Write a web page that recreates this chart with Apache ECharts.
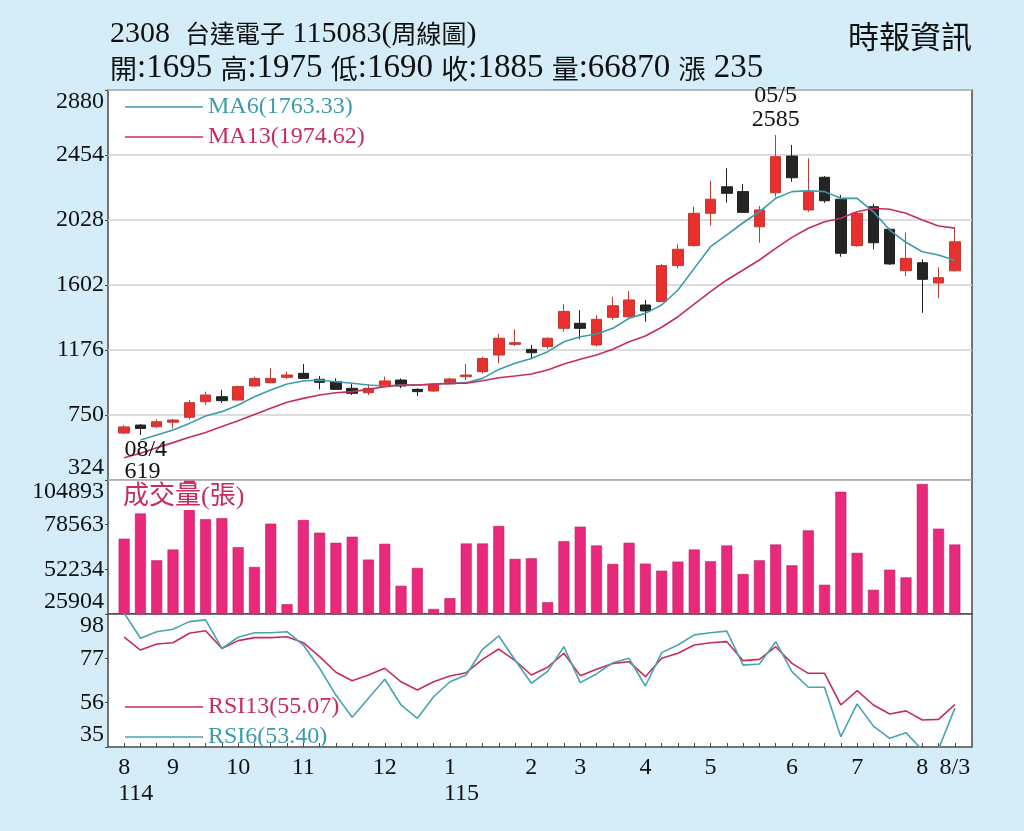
<!DOCTYPE html>
<html>
<head>
<meta charset="utf-8">
<script src="https://cdn.jsdelivr.net/npm/echarts@6/dist/echarts.min.js"></script>
<style>
html,body{margin:0;padding:0;background:#d5ecf9;}
#c{width:1024px;height:831px;}
</style>
</head>
<body>
<div id="c"></div>
<script>
// ---- data (weekly, 52 weeks) ----
const xLabels = ['8\n114','','','9','','','','10','','','','11','','','','','12','','','','1\n115','','','','','2','','','3','','','','4','','','','5','','','','','6','','','','7','','','','8','','8/3'];
const open  = [632,684,673,703,735,837,870,848,940,962,997,1023,984,968,925,896,936,979,918,907,953,1001,1034,1143,1213,1180,1198,1318,1351,1209,1390,1394,1471,1493,1729,1860,2072,2246,2214,1984,2207,2447,2094,2308,2164,1860,2115,1967,1696,1748,1615,1695];
const close = [672,662,706,717,831,881,844,936,990,990,1012,990,964,918,892,925,973,940,903,953,986,1012,1121,1253,1224,1158,1253,1429,1318,1377,1466,1504,1432,1729,1836,2072,2164,2203,2078,2094,2443,2305,2214,2154,1810,2072,1879,1740,1777,1639,1650,1885];
const high  = [684,690,722,724,848,903,914,942,1001,1056,1034,1084,1006,990,953,953,1001,990,925,958,995,1084,1132,1281,1312,1209,1260,1477,1438,1405,1525,1563,1504,1740,1869,2115,2284,2367,2264,2120,2585,2520,2432,2316,2192,2080,2133,1975,1945,1770,1718,1975];
const low   = [625,619,665,662,720,816,831,845,936,958,986,986,918,914,881,881,933,925,874,903,950,979,1023,1089,1202,1115,1185,1296,1246,1198,1373,1384,1361,1490,1711,1855,1991,2141,2075,1879,2181,2279,2082,2141,1787,1853,1836,1733,1661,1420,1515,1690];
const ma6   = ['-',586,619,652,695,743,772,816,870,914,953,973,979,968,958,947,940,947,947,953,958,962,990,1049,1089,1121,1165,1230,1263,1281,1318,1384,1416,1471,1569,1711,1853,1930,2010,2082,2170,2214,2220,2214,2170,2170,2082,1962,1882,1820,1799,1763.33];
const ma13  = [470,499,536,569,604,636,674,713,754,794,833,859,881,896,903,918,935,947,947,951,958,958,975,994,1006,1019,1045,1084,1115,1143,1181,1230,1268,1325,1394,1477,1558,1635,1700,1766,1842,1914,1974,2017,2039,2082,2105,2098,2072,2028,1989,1974.62];
const volume = [70270,85114,57560,63914,104500,81731,82325,65280,53639,79177,31665,81315,73832,67893,71456,57975,67299,42533,53045,28874,35228,67477,67477,77752,58390,58747,32853,68843,77395,66289,55421,67893,55599,51442,56787,63914,56965,66289,49482,57560,66883,54589,75198,43127,97945,61954,40158,52036,47463,102517,76207,66870];
const rsi13 = [87.0,80.9,83.8,84.4,88.9,90.1,81.7,85.4,86.8,86.8,87.2,84.4,77.8,70.4,66.4,69.1,72.3,65.9,62.0,65.9,68.6,70.2,76.5,81.4,75.9,69.1,72.8,79.4,68.8,71.8,74.6,75.4,68.3,77.0,79.4,83.3,84.4,84.9,75.9,76.5,82.5,74.6,69.9,69.9,54.9,61.7,54.9,50.6,52.1,47.8,48.1,55.07];
const rsi6  = [98.5,86.5,89.6,90.8,94.4,95.2,81.7,87.0,89.1,89.1,89.6,83.3,72.3,59.6,49.1,58.1,67.1,54.9,48.6,58.8,65.9,69.1,81.3,87.6,76.2,65.2,70.8,82.5,65.5,69.6,74.9,77.0,63.9,79.7,83.3,88.1,89.1,89.9,73.8,74.3,84.9,70.7,63.3,63.3,39.9,55.4,44.9,39.1,41.8,33.5,34.0,53.40];
const priceTicks = [324, 2880, 426];            // min, max, interval
const volumeTicks = [25904, 104893];            // min, max (4 ticks)
const rsiTicks = [35, 98, 21];
const highDate = '05/5', lowDate = '08/4';
const titleText = ['2308  ', '台達電子', ' 115083(', '周線圖', ')'];
const quote = [['開', 1695], ['高', 1975], ['低', 1690], ['收', 1885], ['量', 66870]];
const change = ['漲', 235];

// ---- build ----
const SERIF = "'Liberation Serif','Noto Sans CJK TC',serif";
const CJK = "'Noto Sans CJK TC','Liberation Serif',sans-serif";
const C_RED = '#e8302e', C_BLACK = '#242424', C_TEAL = '#3a9cad', C_CRIM = '#c52d5e', C_PINK = '#e8297c';
const cats = xLabels.map((s, i) => 'w' + i);
const kData = open.map((o, i) => [o, close[i], low[i], high[i]]);
let hiIdx = 0, loIdx = 0;
high.forEach((v, i) => { if (v > high[hiIdx]) hiIdx = i; });
low.forEach((v, i) => { if (v < low[loIdx]) loIdx = i; });

const L = 108, R = 52, DL = 116, DR = 61;
const panels = [[90, 390], [480, 134], [614, 133]];
const grids = [];
panels.forEach(p => grids.push({left: L, right: R, top: p[0], height: p[1], show: true, backgroundColor: '#fff', borderColor: '#4a4a4a', borderWidth: 1.5, containLabel: false, outerBoundsMode: 'none'}));
panels.forEach(p => grids.push({left: DL, right: DR, top: p[0], height: p[1], show: false, containLabel: false, outerBoundsMode: 'none'}));

const lab = {fontFamily: SERIF, fontSize: 24, color: '#111', margin: 4, showMinLabel: true, showMaxLabel: true, verticalAlignMinLabel: 'bottom', verticalAlignMaxLabel: 'top', formatter: v => String(Math.round(v))};
const tick = {show: true, length: 3, lineStyle: {color: '#4a4a4a'}};
const xAxes = [0,1,2].map(g => ({type: 'value', gridIndex: g, show: false, min: 0, max: 1}));
[3,4].forEach(g => xAxes.push({type: 'category', gridIndex: g, data: cats, show: false, boundaryGap: true}));
xAxes.push({
  type: 'category', gridIndex: 5, data: cats, boundaryGap: true,
  axisLine: {show: false},
  axisTick: {show: true, interval: 0, alignWithLabel: true, inside: true, length: 4, lineStyle: {color: '#4a4a4a'}},
  axisLabel: {
    interval: 0, margin: 8, fontFamily: SERIF, fontSize: 24, color: '#111', lineHeight: 26,
    formatter: (v, i) => {
      const s = xLabels[i];
      if (!s) return '';
      const p = s.split('\n');
      return p.length > 1 ? '{m|' + p[0] + '}\n{y|' + p[1] + '}' : s;
    },
    rich: {
      m: {width: 12, align: 'center', fontFamily: SERIF, fontSize: 24, color: '#111', lineHeight: 26},
      y: {width: 12, align: 'left', fontFamily: SERIF, fontSize: 24, color: '#111', lineHeight: 26}
    }
  }
});

const volInterval = (volumeTicks[1] - volumeTicks[0]) / 3;
const yAxes = [
  {type: 'value', gridIndex: 0, min: priceTicks[0], max: priceTicks[1], interval: priceTicks[2], axisLine: {show: false}, axisTick: tick, axisLabel: lab, splitLine: {show: true, lineStyle: {color: '#d0d0d0', width: 1.5}}},
  {type: 'value', gridIndex: 1, min: volumeTicks[0], max: volumeTicks[1], interval: volInterval, axisLine: {show: false}, axisTick: tick, axisLabel: lab, splitLine: {show: false}},
  {type: 'value', gridIndex: 2, min: rsiTicks[0], max: rsiTicks[1], interval: rsiTicks[2], axisLine: {show: false}, axisTick: tick, axisLabel: lab, splitLine: {show: false}},
  {type: 'value', gridIndex: 3, min: priceTicks[0], max: priceTicks[1], show: false, splitLine: {show: false}},
  {type: 'value', gridIndex: 4, min: volumeTicks[0], max: volumeTicks[1], show: false, splitLine: {show: false}},
  {type: 'value', gridIndex: 5, min: rsiTicks[0], max: rsiTicks[1], show: false, splitLine: {show: false}}
];

const lastOf = a => a[a.length - 1];
const legendVals = {MA6: lastOf(ma6), MA13: lastOf(ma13), RSI13: lastOf(rsi13), RSI6: lastOf(rsi6)};
const legendCommon = {orient: 'vertical', left: 125, itemWidth: 78, itemHeight: 1.5, itemGap: 6, icon: 'rect', selectedMode: false, padding: 0,
  formatter: n => n + '(' + legendVals[n].toFixed(2) + ')', textStyle: {fontFamily: SERIF, fontSize: 24}};

const mp = (idx, val, date, pos) => ({
  symbol: 'rect', symbolSize: 1, itemStyle: {color: 'rgba(0,0,0,0)'},
  data: [{coord: [idx, val], value: val}],
  label: pos === 'top'
    ? {show: true, position: 'top', distance: 3, formatter: date + '\n' + val, fontFamily: SERIF, fontSize: 24, lineHeight: 24, color: '#111'}
    : {show: true, position: 'bottom', distance: 3, align: 'left', offset: [-16, 0], formatter: date + '\n' + val, fontFamily: SERIF, fontSize: 24, lineHeight: 22, color: '#111'}
});

const rich = {
  n: {fontFamily: SERIF, fontSize: 30, fontWeight: 'normal', color: '#111'},
  c: {fontFamily: CJK, fontSize: 25, fontWeight: 'normal', color: '#111'},
  n2: {fontFamily: SERIF, fontSize: 33, fontWeight: 'normal', color: '#111'},
  c2: {fontFamily: CJK, fontSize: 27, fontWeight: 'normal', color: '#111'}
};
const line1 = titleText.map((t, i) => '{' + (i % 2 ? 'c' : 'n') + '|' + t + '}').join('');
const line2 = quote.map(q => '{c2|' + q[0] + '}{n2|:' + q[1] + ' }').join('') + '{c2|' + change[0] + '}{n2| ' + change[1] + '}';

const option = {
  backgroundColor: '#d5ecf9',
  animation: false,
  title: [
    {text: line1, left: 110, top: 19, padding: 0, textStyle: {fontWeight: 'normal', rich}},
    {text: line2, left: 110, top: 52, padding: 0, textStyle: {fontWeight: 'normal', rich}},
    {text: '時報資訊', right: 52, top: 21, padding: 0, textStyle: {fontFamily: CJK, fontSize: 31, fontWeight: 'normal', color: '#111'}},
    {text: '成交量(張)', left: 121, top: 484, padding: [0, 2, 0, 2], backgroundColor: '#fff', textStyle: {fontFamily: SERIF, fontSize: 26, fontWeight: 'normal', color: C_CRIM}}
  ],
  legend: [
    Object.assign({}, legendCommon, {top: 95, data: [{name: 'MA6', textStyle: {color: C_TEAL}}, {name: 'MA13', textStyle: {color: C_CRIM}}]}),
    Object.assign({}, legendCommon, {top: 695, data: [{name: 'RSI13', textStyle: {color: C_CRIM}}, {name: 'RSI6', textStyle: {color: C_TEAL}}]})
  ],
  grid: grids,
  xAxis: xAxes,
  yAxis: yAxes,
  series: [
    {type: 'candlestick', name: 'K', xAxisIndex: 3, yAxisIndex: 3, data: kData, barWidth: 11,
     itemStyle: {color: C_RED, color0: C_BLACK, borderColor: '#c23a32', borderColor0: '#222', borderWidth: 1}},
    {type: 'scatter', name: 'hiMark', xAxisIndex: 3, yAxisIndex: 3, data: [], markPoint: mp(hiIdx, high[hiIdx], highDate, 'top')},
    {type: 'scatter', name: 'loMark', xAxisIndex: 3, yAxisIndex: 3, data: [], markPoint: mp(loIdx, low[loIdx], lowDate, 'bottom')},
    {type: 'line', name: 'MA6', xAxisIndex: 3, yAxisIndex: 3, data: ma6, symbol: 'none', lineStyle: {color: C_TEAL, width: 1.6}, itemStyle: {color: C_TEAL}},
    {type: 'line', name: 'MA13', xAxisIndex: 3, yAxisIndex: 3, data: ma13, symbol: 'none', lineStyle: {color: C_CRIM, width: 1.6}, itemStyle: {color: C_CRIM}},
    {type: 'bar', name: 'VOL', xAxisIndex: 4, yAxisIndex: 4, data: volume, barWidth: 11, itemStyle: {color: C_PINK, borderColor: '#b8205f', borderWidth: 0.6}},
    {type: 'line', name: 'RSI13', xAxisIndex: 5, yAxisIndex: 5, data: rsi13, symbol: 'none', lineStyle: {color: C_CRIM, width: 1.6}, itemStyle: {color: C_CRIM}},
    {type: 'line', name: 'RSI6', xAxisIndex: 5, yAxisIndex: 5, data: rsi6, symbol: 'none', lineStyle: {color: '#4aa3b2', width: 1.6}, itemStyle: {color: '#4aa3b2'}}
  ]
};
const chart = echarts.init(document.getElementById('c'));
chart.setOption(option);
</script>
</body>
</html>
